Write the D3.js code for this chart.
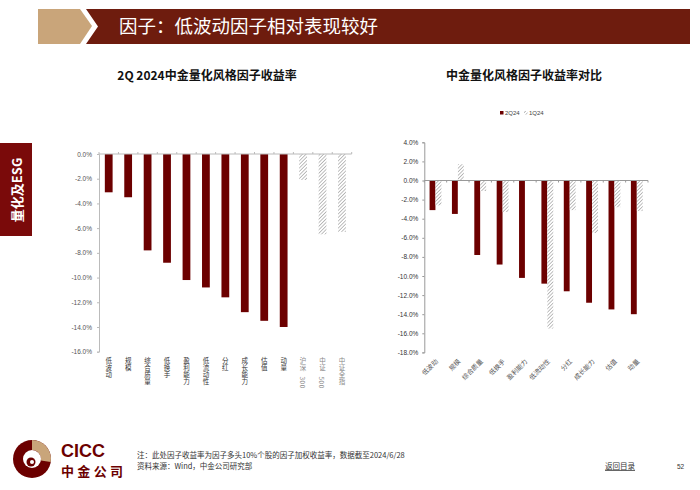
<!DOCTYPE html>
<html><head><meta charset="utf-8">
<script src="https://cdn.jsdelivr.net/npm/d3@7"></script>
<style>
body{margin:0;background:#fff;}
svg{display:block;font-family:"Liberation Sans","Noto Sans CJK SC",sans-serif;}
.cjk{font-family:"Noto Sans CJK SC","Liberation Sans",sans-serif;}
</style></head>
<body>
<svg id="c" width="700" height="490"></svg>
<script>
// ---- data ----
const leftCategories = ["低波动","规模","综合质量","低换手","盈利能力","低流动性","分红","成长能力","估值","动量","沪深300","中证500","中证全指"];
const leftValues = [-3.1,-3.5,-7.8,-8.8,-10.2,-10.8,-11.6,-12.8,-13.5,-14.0,-2.1,-6.5,-6.3];
const leftIsIndex = [false,false,false,false,false,false,false,false,false,false,true,true,true];
const leftTicks = [0,-2,-4,-6,-8,-10,-12,-14,-16];

const rightCategories = ["低波动","规模","综合质量","低换手","盈利能力","低流动性","分红","成长能力","估值","动量"];
const series2Q24 = [-3.1,-3.5,-7.8,-8.8,-10.2,-10.8,-11.6,-12.8,-13.5,-14.0];
const series1Q24 = [-2.6,1.7,-1.1,-3.3,0.0,-15.5,-3.1,-5.5,-2.8,-3.2];
const seriesNames = ["2Q24","1Q24"];
const rightTicks = [4,2,0,-2,-4,-6,-8,-10,-12,-14,-16,-18];

const titleText = "因子：低波动因子相对表现较好";
const leftTitle = "2Q 2024中金量化风格因子收益率";
const rightTitle = "中金量化风格因子收益率对比";
const noteText = "注：此处因子收益率为因子多头10%个股的因子加权收益率，数据截至2024/6/28";
const sourceText = "资料来源：Wind，中金公司研究部";

// ---- drawing ----
const svg = d3.select("#c");
const RED = "#6c0000";
const HEAD = "#6e1c0e";
const TAN = "#c9a57a";
const fmt = d => d.toFixed(1) + "%";

const defs = svg.append("defs");
const pat = defs.append("pattern").attr("id","hatch").attr("patternUnits","userSpaceOnUse")
  .attr("width",2.5).attr("height",2.5).attr("patternTransform","rotate(45)");
pat.append("rect").attr("width",2.5).attr("height",2.5).attr("fill","#fff");
pat.append("line").attr("x1",0).attr("y1",0).attr("x2",0).attr("y2",2.5)
  .attr("stroke","#8a8a8a").attr("stroke-width",1.1);

// header
svg.append("path").attr("d","M38,9 L80,9 L92,26 L80,44 L38,44 Z").attr("fill",TAN);
svg.append("path").attr("d","M86,9 L690,9 L690,44 L86,44 L98,26.5 Z").attr("fill",HEAD);
svg.append("text").attr("class","cjk").attr("x",119).attr("y",33).attr("fill","#fff")
  .attr("font-size",18.5).text(titleText);

// side tab
svg.append("rect").attr("x",0).attr("y",143).attr("width",32).attr("height",93).attr("fill","#7a0a0a");
svg.append("text").attr("class","cjk").attr("transform","translate(22,190) rotate(-90)")
  .attr("text-anchor","middle").attr("fill","#fff").attr("font-size",13).attr("font-weight","bold").text("量化及ESG");

// ---- left chart ----
const L = {x0:99, x1:351.7, y0:154, y1:351.7};
const xL = d3.scaleBand().domain(leftCategories).range([L.x0,L.x1]).paddingInner(0.6).paddingOuter(0.3);
const yL = d3.scaleLinear().domain([0,-16]).range([L.y0,L.y1]);

svg.append("text").attr("class","cjk").attr("x",207).attr("y",80).attr("text-anchor","middle")
  .attr("font-size",12).attr("font-weight","bold").attr("fill","#111").text(leftTitle);

const gL = svg.append("g");
gL.selectAll("rect.b").data(leftCategories).join("rect")
  .attr("x",d=>xL(d)).attr("width",xL.bandwidth())
  .attr("y",yL(0)).attr("height",(d,i)=>yL(leftValues[i])-yL(0))
  .attr("fill",(d,i)=>leftIsIndex[i]?"url(#hatch)":RED);

const yAxL = gL.append("g").attr("transform",`translate(${L.x0},0)`)
  .call(d3.axisLeft(yL).tickValues(leftTicks).tickFormat(fmt).tickSize(2).tickPadding(5));
yAxL.select(".domain").attr("stroke","#bbb");
yAxL.selectAll(".tick line").attr("stroke","#bbb");
yAxL.selectAll("text").attr("font-size",6.5).attr("fill","#555");

const bw = (L.x1-L.x0)/leftCategories.length;
gL.append("line").attr("x1",L.x0).attr("x2",L.x1).attr("y1",yL(0)).attr("y2",yL(0)).attr("stroke","#bbb");
gL.selectAll("line.t").data(d3.range(leftCategories.length+1)).join("line")
  .attr("x1",i=>L.x0+i*bw).attr("x2",i=>L.x0+i*bw).attr("y1",yL(0)).attr("y2",yL(0)-2).attr("stroke","#bbb");

// vertical labels: text rotated 90°, CJK glyphs counter-rotated upright, digits left sideways
gL.selectAll("text.cat").data(leftCategories).join("text").attr("class","cjk cat")
  .attr("transform",d=>`translate(${xL(d)+xL.bandwidth()/2-3.25},362.5) rotate(90)`)
  .attr("rotate",d=>Array.from(d).map(ch=>/[0-9A-Za-z]/.test(ch)?0:-90).join(" "))
  .attr("letter-spacing",0.5)
  .attr("font-size",6.5).attr("fill",(d,i)=>leftIsIndex[i]?"#8a8a8a":"#333").text(d=>d);

// ---- right chart ----
const R = {x0:424.3, x1:648, y0:142.3, y1:352.4};
const xR = d3.scaleBand().domain(rightCategories).range([R.x0,R.x1]).paddingInner(0.46).paddingOuter(0.23);
const xSub = d3.scaleBand().domain(seriesNames).range([0,xR.bandwidth()]).padding(0.02);
const yR = d3.scaleLinear().domain([4,-18]).range([R.y0,R.y1]);

svg.append("text").attr("class","cjk").attr("x",524).attr("y",80).attr("text-anchor","middle")
  .attr("font-size",12).attr("font-weight","bold").attr("fill","#111").text(rightTitle);

const lg = svg.append("g").attr("transform","translate(500,115)");
lg.append("rect").attr("x",0).attr("y",-4).attr("width",3.5).attr("height",3.5).attr("fill",RED);
lg.append("text").attr("x",5).attr("y",0).attr("font-size",6).attr("fill","#444").text(seriesNames[0]);
lg.append("rect").attr("x",24).attr("y",-4).attr("width",3.5).attr("height",3.5).attr("fill","url(#hatch)");
lg.append("text").attr("x",29).attr("y",0).attr("font-size",6).attr("fill","#444").text(seriesNames[1]);

const gR = svg.append("g");
const allSeries = [series2Q24, series1Q24];
rightCategories.forEach((c,i)=>{
  seriesNames.forEach((s,j)=>{
    const v = allSeries[j][i];
    gR.append("rect").attr("x",xR(c)+xSub(s)).attr("width",xSub.bandwidth())
      .attr("y",yR(Math.max(0,v))).attr("height",Math.abs(yR(v)-yR(0)))
      .attr("fill",j===0?RED:"url(#hatch)");
  });
});

const yAxR = gR.append("g").attr("transform",`translate(${R.x0},0)`)
  .call(d3.axisLeft(yR).tickValues(rightTicks).tickFormat(fmt).tickSize(2).tickPadding(4));
yAxR.select(".domain").attr("stroke","#999");
yAxR.selectAll(".tick line").attr("stroke","#999");
yAxR.selectAll("text").attr("font-size",6.5).attr("fill","#333");

const bwR = (R.x1-R.x0)/rightCategories.length;
gR.append("line").attr("x1",R.x0).attr("x2",R.x1).attr("y1",yR(0)).attr("y2",yR(0)).attr("stroke","#999");
gR.selectAll("line.t").data(d3.range(rightCategories.length+1)).join("line")
  .attr("x1",i=>R.x0+i*bwR).attr("x2",i=>R.x0+i*bwR).attr("y1",yR(0)).attr("y2",yR(0)+2).attr("stroke","#999");

gR.selectAll("text.cat").data(rightCategories).join("text").attr("class","cjk cat")
  .attr("text-anchor","end")
  .attr("transform",d=>`translate(${xR(d)+xR.bandwidth()/2+3},362) rotate(-45)`)
  .attr("font-size",6.5).attr("fill","#555").text(d=>d);

// ---- footer ----
const logo = svg.append("g").attr("transform","translate(32,459)");
logo.append("circle").attr("r",19).attr("fill",RED);
logo.append("path").attr("d",d3.arc()({innerRadius:9,outerRadius:19,startAngle:0,endAngle:Math.PI*0.55})).attr("fill",TAN);
logo.append("circle").attr("r",9).attr("fill","#fff");
logo.append("path").attr("d","M-2,-9 A9,9 0 0,0 -2,9 A5,5 0 0,1 -2,-9 Z").attr("fill",RED);
logo.append("circle").attr("cx",-1).attr("cy",3).attr("r",4.5).attr("fill",RED);
logo.append("circle").attr("cx",0).attr("cy",3).attr("r",2).attr("fill","#fff");
svg.append("text").attr("x",61).attr("y",457).attr("font-size",18).attr("font-weight","bold").attr("fill",RED).text("CICC");
svg.append("text").attr("class","cjk").attr("x",61).attr("y",476).attr("font-size",13).attr("font-weight","bold").attr("fill",RED).attr("textLength",62).text("中金公司");

svg.append("text").attr("class","cjk").attr("x",137).attr("y",458).attr("font-size",7.5).attr("fill","#333").text(noteText);
svg.append("text").attr("class","cjk").attr("x",137).attr("y",469).attr("font-size",7.5).attr("fill","#333").text(sourceText);
svg.append("text").attr("class","cjk").attr("x",605).attr("y",469).attr("font-size",7.5).attr("fill","#333")
  .attr("text-decoration","underline").text("返回目录");
svg.append("text").attr("x",677).attr("y",469).attr("font-size",6.5).attr("fill","#333").text("52");
</script>
</body></html>
